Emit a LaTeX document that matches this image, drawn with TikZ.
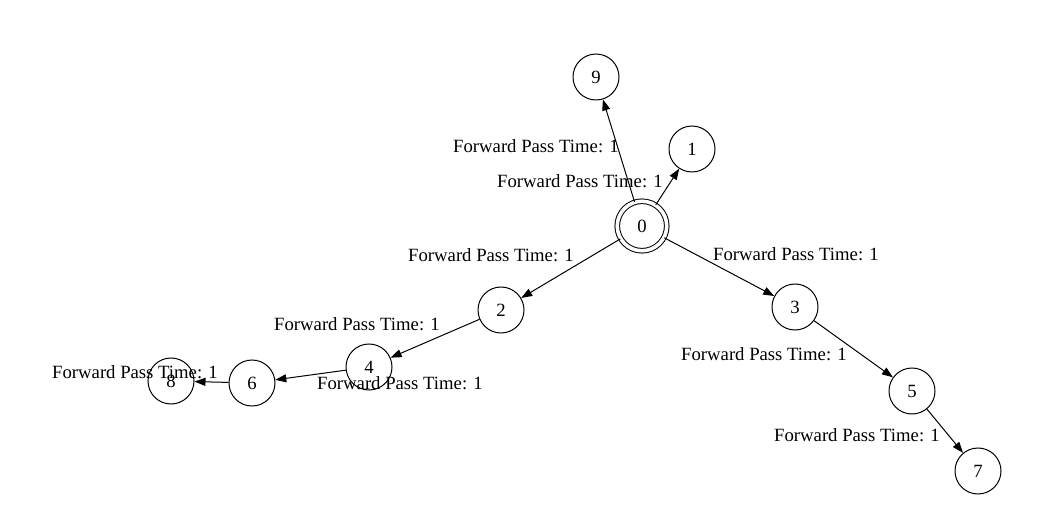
\documentclass[tikz,border=0pt]{standalone}
\usepackage{fontspec}
\setmainfont{Liberation Serif}
\usetikzlibrary{arrows.meta}

\begin{document}
\begin{tikzpicture}[x=1pt,y=-1pt,>={Triangle[length=11pt,width=8pt]}]
    \tikzstyle{state}=[circle,draw,line width=1pt,minimum size=46pt,inner sep=0pt,font=\fontsize{18.7}{22}\selectfont]
    \tikzstyle{start}=[state,double,double distance=3.6pt,minimum size=49.5pt]
    \tikzstyle{cost}=[inner sep=0pt,font=\fontsize{18.7}{22}\selectfont]
    \useasboundingbox (0,0) rectangle (1055,521);
    \node (n0) at (642,226) [start] {0};
    \node (n1) at (692,149) [state] {1};
    \node (n2) at (501,310) [state] {2};
    \node (n3) at (795,307) [state] {3};
    \node (n4) at (369,367) [state] {4};
    \node (n5) at (912,391) [state] {5};
    \node (n6) at (252,383) [state] {6};
    \node (n7) at (978,471) [state] {7};
    \node (n8) at (171,381) [state] {8};
    \node (n9) at (596,77) [state] {9};
    \draw [->,line width=1pt] (n0) -- (n9);
    \draw [->,line width=1pt] (n0) -- (n1);
    \draw [->,line width=1pt] (n0) -- (n2);
    \draw [->,line width=1pt] (n0) -- (n3);
    \draw [->,line width=1pt] (n2) -- (n4);
    \draw [->,line width=1pt] (n4) -- (n6);
    \draw [->,line width=1pt] (n6) -- (n8);
    \draw [->,line width=1pt] (n3) -- (n5);
    \draw [->,line width=1pt] (n5) -- (n7);
    \node (t09) at (536,146) [cost] {Forward Pass Time: 1};
    \node (t01) at (580,181) [cost] {Forward Pass Time: 1};
    \node (t02) at (491,255) [cost] {Forward Pass Time: 1};
    \node (t03) at (796,254) [cost] {Forward Pass Time: 1};
    \node (t24) at (357,324) [cost] {Forward Pass Time: 1};
    \node (t46) at (400,383) [cost] {Forward Pass Time: 1};
    \node (t68) at (135,372) [cost] {Forward Pass Time: 1};
    \node (t35) at (764,354) [cost] {Forward Pass Time: 1};
    \node (t57) at (857,435) [cost] {Forward Pass Time: 1};
  \end{tikzpicture}
\end{document}
